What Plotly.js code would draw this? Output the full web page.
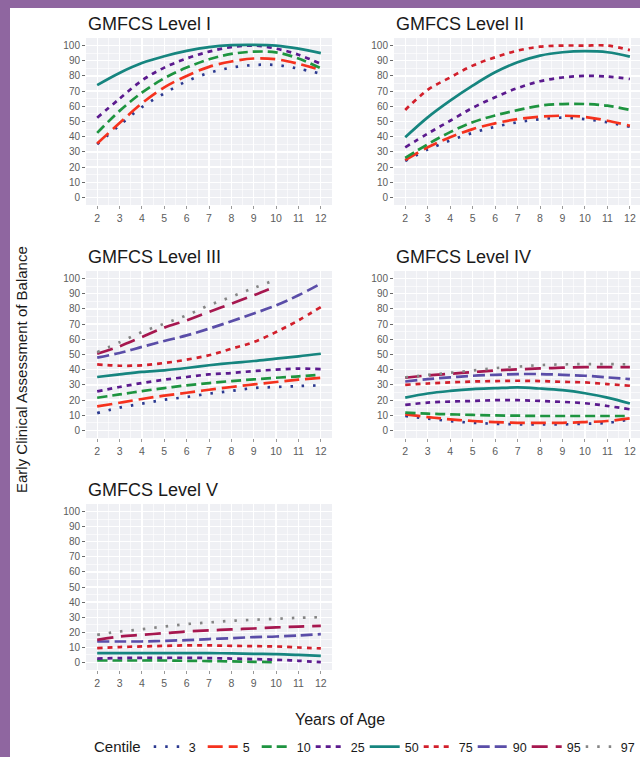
<!DOCTYPE html>
<html>
<head>
<meta charset="utf-8">
<script src="https://cdn.plot.ly/plotly-3.0.1.min.js"></script>
<style>html,body{margin:0;padding:0;background:#fff;}#chart{width:640px;height:757px;}</style>
</head>
<body>
<div id="chart"></div>
<script>
// ---- data ----
const ages = [2, 3, 4, 5, 6, 7, 8, 9, 10, 11, 12];
const centiles = ['3', '5', '10', '25', '50', '75', '90', '95', '97'];
const panelTitles = ['GMFCS Level I', 'GMFCS Level II', 'GMFCS Level III', 'GMFCS Level IV', 'GMFCS Level V'];
const yTicks = [0, 10, 20, 30, 40, 50, 60, 70, 80, 90, 100];
const xTicks = [2, 3, 4, 5, 6, 7, 8, 9, 10, 11, 12];

// Level I
const L1_c3  = [35, 47.5, 59.5, 68.5, 76.5, 82, 85.5, 87.2, 87.2, 84.8, 81.5];
const L1_c5  = [35.5, 49, 62, 72.5, 80, 86, 89.5, 91.5, 91, 88, 84];
const L1_c10 = [42.5, 57, 69, 78.5, 85.5, 91, 94.5, 96, 95.5, 91.5, 85];
const L1_c25 = [52.5, 65, 77, 85.5, 91.5, 96, 99, 100, 98, 94, 88];
const L1_c50 = [74, 82, 88.5, 93, 96.5, 99, 100.3, 100.5, 100, 98, 95];
// Level II
const L2_c3  = [24, 31.5, 37.5, 42.5, 46.5, 49.5, 51.5, 52.5, 51.5, 49.5, 46.5];
const L2_c5  = [24.6, 33, 39.6, 45, 48.8, 51.6, 53.2, 53.8, 53, 50.5, 47.2];
const L2_c10 = [26, 35, 43, 49.5, 54, 57.5, 60.4, 61.5, 61.5, 60.4, 57.6];
const L2_c25 = [33, 42, 50.5, 59, 66, 72, 76.5, 79, 80, 79.6, 78];
const L2_c50 = [39.6, 52.7, 63.7, 73.6, 82.4, 89, 93.4, 95.6, 96.3, 95.6, 92.7];
const L2_c75 = [57.6, 70.8, 79, 86.8, 92.3, 96.7, 99.3, 100, 100, 100, 97];
// Level III
const L3_c3  = [11.4, 15, 17.6, 20.2, 22, 24.2, 26, 27.9, 28.6, 29.2, 29.7];
const L3_c5  = [15.8, 18.2, 20.7, 22.9, 24.8, 26.8, 28.6, 30.3, 31.9, 33.4, 34.7];
const L3_c10 = [21.5, 23.7, 25.9, 27.9, 29.7, 31.2, 32.5, 33.6, 34.7, 35.6, 36.7];
const L3_c25 = [25.7, 28.6, 31.2, 33.4, 35.2, 36.9, 37.8, 39.1, 40, 40.7, 40.4];
const L3_c50 = [35.2, 36.9, 38.5, 39.6, 41.1, 42.9, 44.4, 45.7, 47.3, 48.8, 50.5];
const L3_c75 = [43.5, 42.6, 42.9, 44.4, 46.6, 49.5, 53.8, 58.2, 64.8, 72.5, 81.3];
const L3_c90 = [47.9, 51, 55, 58.9, 62.6, 67, 71.9, 77, 82.4, 89, 96.7];
const L3_c95 = [50.5, 55.4, 61.5, 67.7, 72.5, 78, 83.5, 89, 95, null, null];
const L3_c97 = [51.5, 58, 64.8, 70.3, 75.8, 82.4, 88, 93.8, 99.3, null, null];
// Level IV
const L4_c3  = [9.5, 7.7, 6.2, 5, 4.4, 4, 4, 4, 4.4, 5, 7.3];
const L4_c5  = [10.6, 8.8, 7.3, 6.2, 5.5, 5, 5, 5, 5.5, 6.2, 7.9];
const L4_c10 = [11.7, 11, 10.6, 10.2, 9.9, 9.7, 9.5, 9.5, 9.5, 9.5, 9.5];
const L4_c25 = [16.8, 18.3, 19, 19.4, 19.9, 19.9, 19.4, 18.8, 17.9, 16.1, 13.9];
const L4_c50 = [21.6, 24.3, 26, 27.2, 27.8, 28.3, 27.6, 26.5, 24.5, 21.6, 17.7];
const L4_c75 = [30, 30.9, 31.6, 32.2, 32.5, 32.7, 32.5, 32, 31.6, 30.5, 29.4];
const L4_c90 = [32.2, 33.8, 34.9, 36, 36.6, 37.1, 37.1, 36.6, 36, 34.9, 33.8];
const L4_c95 = [34.7, 36.2, 37.3, 38.4, 39.5, 40.2, 40.8, 41.3, 41.7, 41.7, 41.7];
const L4_c97 = [35, 36.5, 38, 39.5, 41, 42, 43, 43.5, 43.7, 43.7, 43.5];
// Level V
const L5_c10 = [1.3, 1.3, 1.3, 1.3, 1.1, 0.9, 0.7, 0.4, 0.2, null, null];
const L5_c25 = [2.6, 2.9, 3.1, 3.1, 3.1, 2.9, 2.6, 2.2, 1.8, 1.1, 0.2];
const L5_c50 = [6.2, 6.2, 6.2, 6.2, 6.2, 6.2, 6, 5.7, 5.5, 5, 4.4];
const L5_c75 = [9.5, 10.2, 10.6, 11, 11.3, 11.3, 11, 10.8, 10.6, 9.9, 9.3];
const L5_c90 = [13.9, 13.9, 13.9, 14.3, 14.8, 15.5, 16.1, 16.8, 17.2, 17.9, 18.8];
const L5_c95 = [15, 17.2, 18.3, 19.4, 20.5, 21.2, 21.9, 22.5, 23.2, 23.8, 24.3];
const L5_c97 = [18.3, 20.5, 22, 23.8, 25.4, 26.5, 27.6, 28.3, 28.9, 29.6, 30];

const levels = [
  {'3': L1_c3, '5': L1_c5, '10': L1_c10, '25': L1_c25, '50': L1_c50},
  {'3': L2_c3, '5': L2_c5, '10': L2_c10, '25': L2_c25, '50': L2_c50, '75': L2_c75},
  {'3': L3_c3, '5': L3_c5, '10': L3_c10, '25': L3_c25, '50': L3_c50, '75': L3_c75, '90': L3_c90, '95': L3_c95, '97': L3_c97},
  {'3': L4_c3, '5': L4_c5, '10': L4_c10, '25': L4_c25, '50': L4_c50, '75': L4_c75, '90': L4_c90, '95': L4_c95, '97': L4_c97},
  {'10': L5_c10, '25': L5_c25, '50': L5_c50, '75': L5_c75, '90': L5_c90, '95': L5_c95, '97': L5_c97}
];

// ---- styles ----
const styles = {
  '3':  {color: '#2B3990', dash: '2.5px,9px'},
  '5':  {color: '#F5321E', dash: '15px,6px'},
  '10': {color: '#1E9440', dash: '10px,5px'},
  '25': {color: '#5B1A8E', dash: '5px,5px'},
  '50': {color: '#16857F', dash: 'solid'},
  '75': {color: '#D21F2B', dash: '5px,5px'},
  '90': {color: '#5A4DA8', dash: '12px,5px'},
  '95': {color: '#A6174F', dash: '16px,8px'},
  '97': {color: '#858585', dash: '2.5px,9px'}
};

const W = 640, H = 757;
const colX = [[86, 332], [394, 640]];
const rowY = [[38, 205], [271, 438], [504, 670]];
const xRanges = [[1.5, 12.5], [1.5, 12.45]];
const panelPos = [[0, 0], [1, 0], [0, 1], [1, 1], [0, 2]];

const traces = [];
const seen = {};
levels.forEach((lvl, i) => {
  const suf = i === 0 ? '' : String(i + 1);
  centiles.forEach(c => {
    if (!lvl[c]) return;
    const st = styles[c];
    traces.push({
      type: 'scatter', mode: 'lines',
      x: ages, y: lvl[c],
      xaxis: 'x' + suf, yaxis: 'y' + suf,
      name: c, legendgroup: c,
      showlegend: !seen[c],
      line: {color: st.color, dash: st.dash, width: 2.7, shape: 'spline', smoothing: 1},
      connectgaps: false,
      hoverinfo: 'x+y+name'
    });
    seen[c] = true;
  });
});

const layout = {
  width: W, height: H,
  margin: {l: 0, r: 0, t: 0, b: 0, autoexpand: false},
  paper_bgcolor: '#ffffff',
  plot_bgcolor: '#EFF0F4',
  font: {family: 'Liberation Sans, Arial, sans-serif', color: '#1a1a1a'},
  showlegend: true,
  legend: {
    orientation: 'h', x: 92 / W, xanchor: 'left', y: 1 - 747 / H, yanchor: 'middle',
    font: {size: 12.5, color: '#1a1a1a'},
    title: {text: 'Centile', side: 'left', font: {size: 15}},
    itemwidth: 30, entrywidth: 9, entrywidthmode: 'pixels',
    tracegroupgap: 0, traceorder: 'normal',
    bgcolor: 'rgba(0,0,0,0)'
  },
  annotations: [],
  shapes: [
    {type: 'rect', xref: 'paper', yref: 'paper', x0: 0, x1: 10 / W, y0: 0, y1: 1, fillcolor: '#8F66A0', line: {width: 0}, layer: 'above'},
    {type: 'rect', xref: 'paper', yref: 'paper', x0: 0, x1: 1, y0: 1 - 8 / H, y1: 1, fillcolor: '#8F66A0', line: {width: 0}, layer: 'above'}
  ]
};

panelPos.forEach((p, i) => {
  const suf = i === 0 ? '' : String(i + 1);
  const cx = colX[p[0]], ry = rowY[p[1]];
  layout['xaxis' + suf] = {
    domain: [cx[0] / W, cx[1] / W],
    range: xRanges[p[0]],
    anchor: 'y' + suf,
    tickvals: xTicks,
    ticks: 'outside', ticklen: 3, tickcolor: '#9a9a9a', tickwidth: 1,
    tickfont: {size: 10.5, color: '#5c5c5c'},
    showgrid: true, gridcolor: '#ffffff', gridwidth: 1.3,
    minor: {dtick: 0.5, tick0: 1.5, showgrid: true, gridcolor: '#ffffff', gridwidth: 0.6, ticks: ''},
    zeroline: false, showline: false, fixedrange: true
  };
  layout['yaxis' + suf] = {
    domain: [1 - ry[1] / H, 1 - ry[0] / H],
    range: [-5, 105],
    anchor: 'x' + suf,
    tickvals: yTicks,
    ticks: 'outside', ticklen: 3, tickcolor: '#6a6a6a', tickwidth: 1,
    tickfont: {size: 10, color: '#5c5c5c'},
    showgrid: true, gridcolor: '#ffffff', gridwidth: 1.3,
    minor: {dtick: 5, tick0: -5, showgrid: true, gridcolor: '#ffffff', gridwidth: 0.6, ticks: ''},
    zeroline: false, showline: false, fixedrange: true
  };
  layout.annotations.push({
    text: panelTitles[i], xref: 'paper', yref: 'paper',
    x: cx[0] / W, xanchor: 'left',
    y: 1 - (ry[0] - 14) / H, yanchor: 'middle',
    showarrow: false, font: {size: 18, color: '#1a1a1a'}
  });
});

layout.annotations.push({
  text: 'Early Clinical Assessment of Balance', xref: 'paper', yref: 'paper',
  x: 21 / W, y: 1 - 370 / H, xanchor: 'center', yanchor: 'middle', textangle: -90,
  showarrow: false, font: {size: 15, color: '#1a1a1a'}
});
layout.annotations.push({
  text: 'Years of Age', xref: 'paper', yref: 'paper',
  x: 340 / W, y: 1 - 719 / H, xanchor: 'center', yanchor: 'middle',
  showarrow: false, font: {size: 16, color: '#1a1a1a'}
});

Plotly.newPlot('chart', traces, layout, {displayModeBar: false, staticPlot: true});
</script>
</body>
</html>
